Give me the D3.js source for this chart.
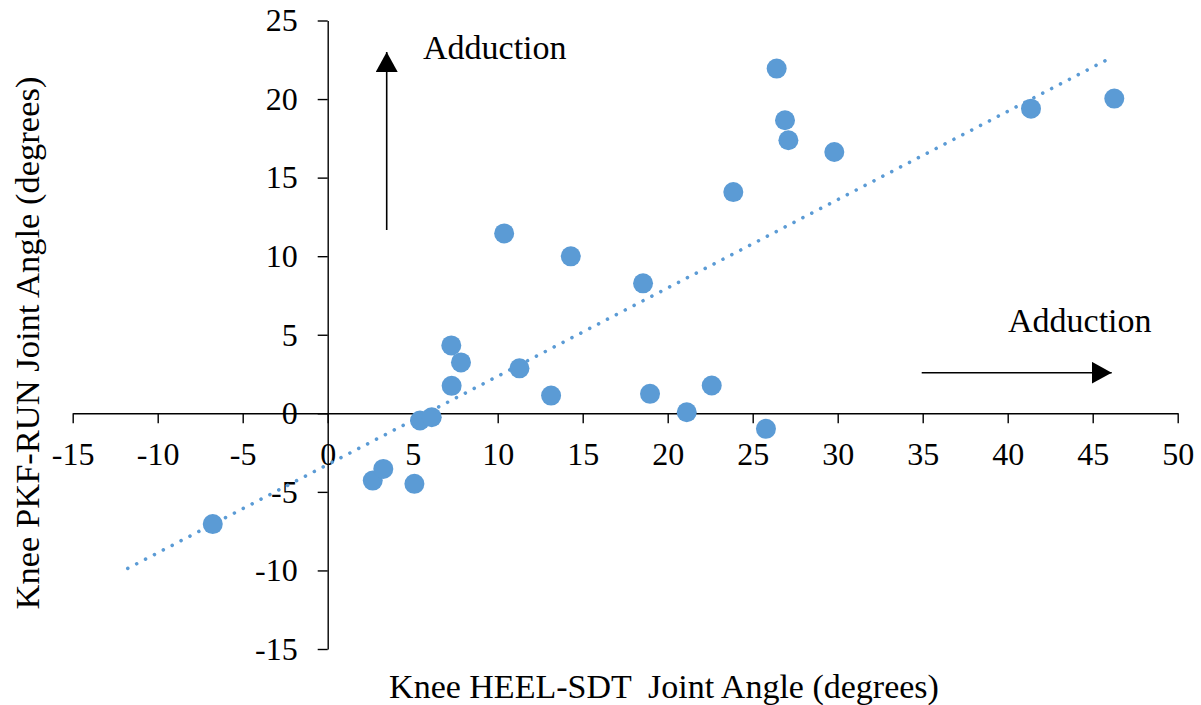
<!DOCTYPE html>
<html>
<head>
<meta charset="utf-8">
<script src="https://cdn.jsdelivr.net/npm/d3@7/dist/d3.min.js"></script>
<style>
  html, body { margin: 0; padding: 0; background: #fff; }
  svg { display: block; }
  svg text, .tick text { font-family: "Liberation Serif", "Times New Roman", serif !important; }
</style>
</head>
<body>
<svg id="chart" width="1201" height="705"></svg>
<script>
// Knee adduction angles: HEEL-SDT (x) vs PKF-RUN (y), degrees
const heelSdt = [-6.76, 2.65, 3.27, 5.10, 5.43, 6.12, 7.29, 7.27, 7.84, 11.28, 10.38, 13.14, 14.30,
                 18.55, 18.96, 21.12, 22.59, 25.78, 23.86, 26.41, 26.90, 27.10, 29.80, 41.37, 46.27];
const pkfRun  = [-7.05, -4.28, -3.54, -4.49, -0.46, -0.25, 1.75, 4.32, 3.24, 2.86, 11.45, 1.13, 9.99,
                 8.27, 1.24, 0.07, 1.77, -0.99, 14.08, 21.94, 18.65, 17.38, 16.63, 19.39, 20.03];

// Linear trendline (slope, intercept) and the x range it spans
const trendCoef = [0.562, -3.26];
const trendXRange = [-11.76, 45.76];

const xTicks = [-15, -10, -5, 0, 5, 10, 15, 20, 25, 30, 35, 40, 45, 50];
const yTicks = [-15, -10, -5, 0, 5, 10, 15, 20, 25];

const xTitle = "Knee HEEL-SDT  Joint Angle (degrees)";
const yTitle = "Knee PKF-RUN Joint Angle (degrees)";
const noteText = "Adduction";

const svg = d3.select("#chart");
const blue = "#5B9BD5";

const x = d3.scaleLinear().domain([-15, 50]).range([72.7, 1177.7]);
const y = d3.scaleLinear().domain([-15, 25]).range([649, 20.5]);

// Axes cross at the origin
const xAxis = svg.append("g")
  .attr("transform", `translate(0,${y(0)})`)
  .call(d3.axisBottom(x).tickValues(xTicks).tickSize(10).tickSizeOuter(0).tickPadding(19)
        .tickFormat(d => String(d)));
const yAxis = svg.append("g")
  .attr("transform", `translate(${x(0)},0)`)
  .call(d3.axisLeft(y).tickValues(yTicks).tickSize(10).tickSizeOuter(0).tickPadding(20)
        .tickFormat(d => String(d)));

[xAxis, yAxis].forEach(g => {
  g.attr("font-family", null).attr("font-size", 32);
  g.selectAll("path.domain").attr("stroke", "#000").attr("stroke-width", 1.4);
  g.selectAll(".tick line").attr("stroke", "#000").attr("stroke-width", 1.4);
  g.selectAll(".tick text").attr("fill", "#000").attr("font-size", 32);
});
xAxis.selectAll(".tick text").attr("dy", "0.71em");

// Trendline (dotted)
const trendPts = trendXRange.map(v => [v, trendCoef[0] * v + trendCoef[1]]);
svg.append("path")
  .attr("d", d3.line().x(d => x(d[0])).y(d => y(d[1]))(trendPts))
  .attr("fill", "none")
  .attr("stroke", blue)
  .attr("stroke-width", 3.6)
  .attr("stroke-linecap", "round")
  .attr("stroke-dasharray", "0.01 10");

// Points
svg.append("g").selectAll("circle")
  .data(heelSdt.map((v, i) => [v, pkfRun[i]]))
  .join("circle")
  .attr("cx", d => x(d[0]))
  .attr("cy", d => y(d[1]))
  .attr("r", 10)
  .attr("fill", blue);

// Axis titles
svg.append("text")
  .attr("x", 664).attr("y", 698)
  .attr("text-anchor", "middle")
  .attr("font-size", 34)
  .attr("xml:space", "preserve")
  .style("white-space", "pre")
  .text(xTitle);
svg.append("text")
  .attr("transform", "translate(39,343) rotate(-90)")
  .attr("text-anchor", "middle")
  .attr("font-size", 34.5)
  .text(yTitle);

// Direction annotations
svg.append("defs").append("marker")
  .attr("id", "arrowHead")
  .attr("viewBox", "0 0 20 22")
  .attr("refX", 20).attr("refY", 11)
  .attr("markerWidth", 20).attr("markerHeight", 22)
  .attr("markerUnits", "userSpaceOnUse")
  .attr("orient", "auto")
  .append("path").attr("d", "M0,0 L20,11 L0,22 Z").attr("fill", "#000");

svg.append("line")
  .attr("x1", 386.7).attr("y1", 230).attr("x2", 386.7).attr("y2", 52)
  .attr("stroke", "#000").attr("stroke-width", 1.6)
  .attr("marker-end", "url(#arrowHead)");
svg.append("text")
  .attr("x", 423).attr("y", 59)
  .attr("font-size", 34)
  .text(noteText);

svg.append("line")
  .attr("x1", 921.7).attr("y1", 372.7).attr("x2", 1111.7).attr("y2", 372.7)
  .attr("stroke", "#000").attr("stroke-width", 1.6)
  .attr("marker-end", "url(#arrowHead)");
svg.append("text")
  .attr("x", 1008).attr("y", 332)
  .attr("font-size", 34)
  .text(noteText);
</script>
</body>
</html>
